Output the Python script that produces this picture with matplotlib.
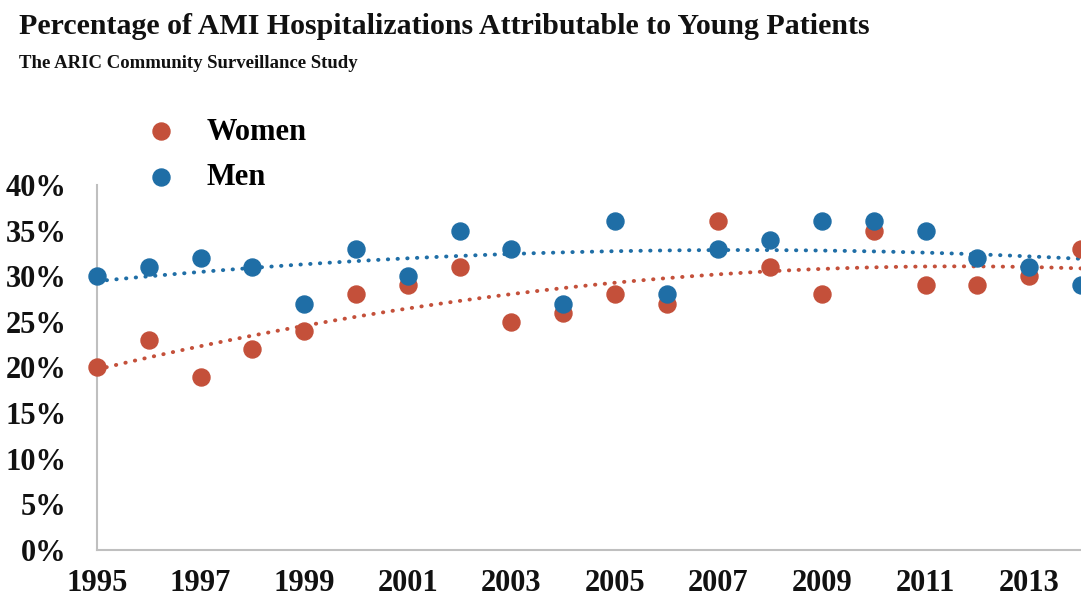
import numpy as np
import matplotlib
matplotlib.use("Agg")
import matplotlib.pyplot as plt
from matplotlib.ticker import FuncFormatter

# -------------------------
# DATA
# -------------------------
years = np.arange(1995, 2015)
women = [20, 23, 19, 22, 24, 28, 29, 31, 25, 26, 28, 27, 36, 31, 28, 35, 29, 29, 30, 33]
men = [30, 31, 32, 31, 27, 33, 30, 35, 33, 27, 36, 28, 33, 34, 36, 36, 35, 32, 31, 29]
year_ticks = list(range(1995, 2014, 2))
pct_ticks = list(range(0, 41, 5))

RED = "#C4503A"
BLUE = "#1F6EA6"
SERIF = "Liberation Serif"

plt.rcParams["font.family"] = SERIF
plt.rcParams["font.weight"] = "bold"

fig = plt.figure(figsize=(10.81, 6.0), dpi=100)
ax = fig.add_axes([0.0897, 0.0833, 0.9103, 0.6084])

# -------------------------
# TRENDLINES (2nd order poly)
# -------------------------
xs = np.linspace(1995, 2014, 200)
for vals, col in [(women, RED), (men, BLUE)]:
    coef = np.polyfit(years, vals, 2)
    ax.plot(xs, np.polyval(coef, xs), color=col, lw=2.8,
            linestyle=(0, (0.1, 2.4)), dash_capstyle="round", zorder=2)

ax.scatter(years, women, s=150, color=RED, zorder=3, clip_on=False, label="Women")
ax.scatter(years, men, s=150, color=BLUE, zorder=4, clip_on=False, label="Men")

ax.set_xlim(1995, 2014)
ax.set_ylim(0, 40)
ax.set_xticks(year_ticks)
ax.set_yticks(pct_ticks)
ax.yaxis.set_major_formatter(FuncFormatter(lambda v, p: f"{int(v)}%"))
ax.tick_params(length=0, labelsize=22, colors="#111111")
ax.tick_params(axis="x", pad=14)
ax.tick_params(axis="y", pad=22)
for lab in ax.get_xticklabels() + ax.get_yticklabels():
    lab.set_fontweight("bold")

for side in ["top", "right"]:
    ax.spines[side].set_visible(False)
for side in ["left", "bottom"]:
    ax.spines[side].set_color("#BFBFBF")
    ax.spines[side].set_linewidth(1.5)

# legend
leg = fig.legend(loc="upper left", bbox_to_anchor=(0.095, 0.85), frameon=False,
                 prop={"family": SERIF, "weight": "bold", "size": 22},
                 handletextpad=0.5, labelspacing=0.55, scatterpoints=1)

fig.text(0.018, 0.955, "Percentage of AMI Hospitalizations Attributable to Young Patients",
         fontsize=21.5, fontweight="bold", color="#111111", va="center")
fig.text(0.018, 0.895, "The ARIC Community Surveillance Study",
         fontsize=13.5, fontweight="bold", color="#111111", va="center")

fig.savefig("out.png", dpi=100)
